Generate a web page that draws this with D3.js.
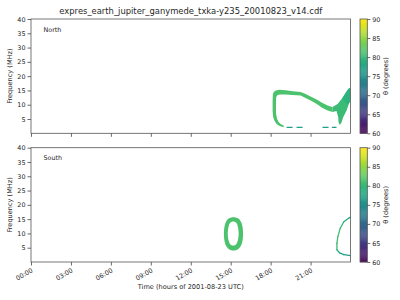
<!DOCTYPE html>
<html>
<head>
<meta charset="utf-8">
<script src="https://cdn.jsdelivr.net/npm/d3@7"></script>
<style>
body { margin: 0; background: #fff; }
text { font-family: "DejaVu Sans", sans-serif; fill: #262626; }
</style>
</head>
<body>
<svg width="400" height="300"></svg>
<script>
var title = "expres_earth_jupiter_ganymede_txka-y235_20010823_v14.cdf";
var panelNames = ["North", "South"];
var hourTicks = [0, 3, 6, 9, 12, 15, 18, 21];
var hourLabels = ["00:00", "03:00", "06:00", "09:00", "12:00", "15:00", "18:00", "21:00"];
var freqTicks = [5, 10, 15, 20, 25, 30, 35, 40];
var thetaTicks = [60, 65, 70, 75, 80, 85, 90];

// north hemisphere emission: [hour, MHz]
var northLoop = [
    [18.98, 2.1], [18.68, 2.55], [18.45, 3.25], [18.3, 4.3], [18.19, 5.7], [18.15, 7.8],
    [18.15, 11.6], [18.17, 13.75], [18.26, 14.6], [18.45, 15.05], [18.68, 15.2], [19.13, 15.05],
    [19.65, 14.7], [20.25, 14.45], [20.55, 13.9], [20.85, 13.2], [21.23, 12.35], [21.53, 11.65],
    [21.83, 10.8], [22.28, 9.7], [22.65, 9.2],
    [22.65, 7.45], [22.28, 8.0], [21.83, 9.0], [21.53, 10.1], [21.15, 11.1], [20.85, 11.8],
    [20.55, 12.5], [20.25, 13.2], [19.65, 13.4], [19.13, 13.6], [18.68, 13.6], [18.49, 13.3],
    [18.41, 12.4], [18.4, 9.9], [18.41, 6.75], [18.49, 5.0], [18.6, 3.95], [18.75, 3.25], [18.98, 2.75]
];
var northFan = [
    [22.65, 9.2], [23.03, 10.25], [23.33, 12.0], [23.63, 14.1], [23.83, 15.5], [24.0, 16.0],
    [24.0, 12.0], [23.7, 7.9], [23.45, 5.6], [23.33, 3.85], [23.2, 2.9], [23.1, 3.85],
    [23.08, 5.6], [22.95, 7.8], [22.65, 7.45]
];
var northFanTop = [
    [23.4, 12.3], [23.63, 14.1], [23.83, 15.5], [24.0, 16.0], [24.0, 11.0], [23.8, 10.0]
];
var northDashes = [[19.2, 19.65], [19.95, 20.4], [21.9, 22.35], [22.6, 22.95]];
var northDashFreq = 2.05;
var northTheta = { loop: 81.5, fan: 80.5, fanTop: 79, dash: 77 };

// south hemisphere emission
var southRingOuter = [
    [15.21, 15.7], [15.55, 15.3], [15.78, 14.0], [15.9, 12.0], [15.93, 9.9], [15.9, 7.8],
    [15.78, 5.8], [15.55, 4.5], [15.21, 4.05], [14.87, 4.5], [14.64, 5.8], [14.52, 7.8],
    [14.49, 9.9], [14.52, 12.0], [14.64, 14.0], [14.87, 15.3]
];
var southRingInner = [
    [15.19, 14.2], [15.4, 13.8], [15.53, 12.5], [15.6, 9.95], [15.53, 7.4], [15.4, 6.1],
    [15.19, 5.7], [14.98, 6.1], [14.85, 7.4], [14.78, 9.95], [14.85, 12.5], [14.98, 13.8]
];
var southArc = [
    [24.0, 15.7], [23.86, 15.3], [23.5, 14.1], [23.23, 11.8], [23.05, 8.9], [22.98, 6.6],
    [22.98, 4.3], [23.18, 3.2], [23.5, 2.6], [24.0, 2.2]
];
var southArcTheta = [77, 77.5, 79, 80.5, 81, 81, 80, 78, 77, 77];
var southRingTheta = 81.5;

var svg = d3.select("svg");
var left = 31, right = 350.5;
var panelTop = [19, 147.7], panelH = 114.3;
var cbX = 360, cbW = 7.3;

var x = d3.scaleLinear().domain([0, 24]).range([left, right]);
var color = d3.scaleSequential(d3.interpolateViridis).domain([60, 90]);

svg.append("text")
    .attr("x", (left + right) / 2).attr("y", 13.5)
    .attr("text-anchor", "middle")
    .style("font-size", "8.4px")
    .text(title);

panelNames.forEach(function(name, i) {
    var top = panelTop[i];
    var y = d3.scaleLinear().domain([0, 40]).range([top + panelH, top]);
    var g = svg.append("g");
    var line = d3.line().x(function(d) { return x(d[0]); }).y(function(d) { return y(d[1]); });
    var clip = "clip" + i;

    svg.append("clipPath").attr("id", clip).append("rect")
        .attr("x", left).attr("y", top).attr("width", right - left).attr("height", panelH);
    var plot = g.append("g").attr("clip-path", "url(#" + clip + ")");

    if (name === "North") {
        plot.append("path").attr("d", line(northLoop) + "Z")
            .attr("fill", color(northTheta.loop));
        plot.append("path").attr("d", line(northFan) + "Z")
            .attr("fill", color(northTheta.fan));
        plot.append("path").attr("d", line(northFanTop) + "Z")
            .attr("fill", color(northTheta.fanTop)).attr("opacity", 0.8);
        plot.selectAll(".dash").data(northDashes).enter().append("line")
            .attr("x1", function(d) { return x(d[0]); })
            .attr("x2", function(d) { return x(d[1]); })
            .attr("y1", y(northDashFreq)).attr("y2", y(northDashFreq))
            .attr("stroke", color(northTheta.dash)).attr("stroke-width", 1.2);
    } else {
        var smooth = d3.line().curve(d3.curveCatmullRomClosed)
            .x(function(d) { return x(d[0]); }).y(function(d) { return y(d[1]); });
        plot.append("path")
            .attr("d", smooth(southRingOuter) + smooth(southRingInner))
            .attr("fill-rule", "evenodd")
            .attr("fill", color(southRingTheta));
        for (var k = 0; k < southArc.length - 1; k++) {
            plot.append("path")
                .attr("d", line([southArc[k], southArc[k + 1]]))
                .attr("fill", "none")
                .attr("stroke", color((southArcTheta[k] + southArcTheta[k + 1]) / 2))
                .attr("stroke-width", 1.3)
                .attr("stroke-linecap", "round");
        }
    }

    // axes
    var yAxis = d3.axisLeft(y).tickValues(freqTicks).tickSize(3.5).tickPadding(2);
    var ga = g.append("g").attr("transform", "translate(" + left + ",0)").call(yAxis);
    var xAxis = d3.axisBottom(x).tickValues(hourTicks).tickSize(3.5)
        .tickFormat(function(d, j) { return i === 1 ? hourLabels[j] : ""; });
    var gx = g.append("g").attr("transform", "translate(0," + (top + panelH) + ")").call(xAxis);
    [ga, gx].forEach(function(a) {
        a.select(".domain").remove();
        a.selectAll("line").attr("stroke", "#444").attr("stroke-width", 0.8);
        a.selectAll("text").style("font-size", "6.4px").attr("fill", "#262626");
    });
    if (i === 1) {
        gx.selectAll("text")
            .attr("text-anchor", "end")
            .attr("dy", null).attr("y", 0)
            .attr("transform", "translate(-0.5,5.5) rotate(-30)")
            .attr("dominant-baseline", "hanging");
    }

    g.append("rect").attr("x", left).attr("y", top)
        .attr("width", right - left).attr("height", panelH)
        .attr("fill", "none").attr("stroke", "#555").attr("stroke-width", 0.8);

    g.append("text").attr("x", 43.5).attr("y", top + 12.5)
        .style("font-size", "6.4px").text(name);

    g.append("text")
        .attr("transform", "translate(12," + (top + panelH / 2) + ") rotate(-90)")
        .attr("text-anchor", "middle")
        .style("font-size", "6.6px")
        .text("Frequency (MHz)");

    // colorbar
    var cy = d3.scaleLinear().domain([60, 90]).range([top + panelH, top]);
    var steps = d3.range(60, 90, 0.25);
    g.selectAll(".cb").data(steps).enter().append("rect")
        .attr("x", cbX).attr("width", cbW)
        .attr("y", function(d) { return cy(d + 0.25); })
        .attr("height", function(d) { return cy(d) - cy(d + 0.25) + 0.3; })
        .attr("fill", function(d) { return color(d + 0.125); });
    g.append("rect").attr("x", cbX).attr("y", top).attr("width", cbW).attr("height", panelH)
        .attr("fill", "none").attr("stroke", "#555").attr("stroke-width", 0.8);
    var cAxis = d3.axisRight(cy).tickValues(thetaTicks).tickSize(3).tickPadding(2);
    var gc = g.append("g").attr("transform", "translate(" + (cbX + cbW) + ",0)").call(cAxis);
    gc.select(".domain").remove();
    gc.selectAll("line").attr("stroke", "#444").attr("stroke-width", 0.8);
    gc.selectAll("text").style("font-size", "6.4px").attr("fill", "#262626");

    g.append("text")
        .attr("transform", "translate(388," + (top + panelH / 2) + ") rotate(-90)")
        .attr("text-anchor", "middle")
        .style("font-size", "6.6px")
        .text("\u03b8 (degrees)");
});

svg.append("text")
    .attr("x", (left + right) / 2).attr("y", 289)
    .attr("text-anchor", "middle")
    .style("font-size", "6.6px")
    .text("Time (hours of 2001-08-23 UTC)");
</script>
</body>
</html>
